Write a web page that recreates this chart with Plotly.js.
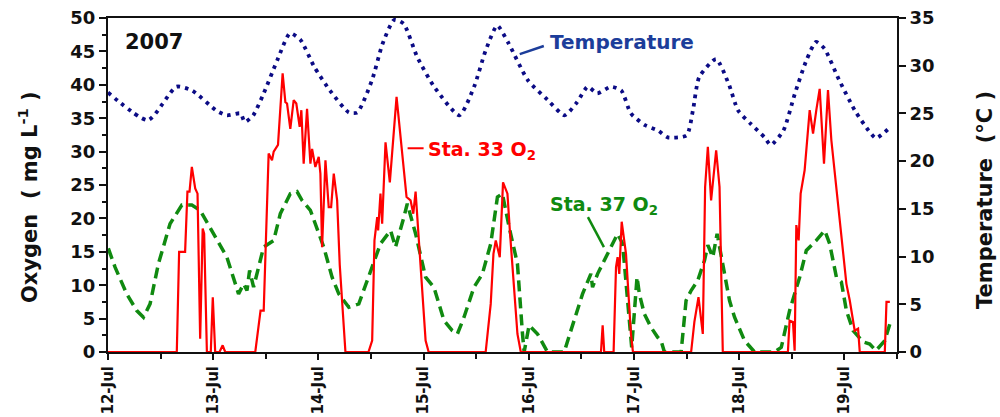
<!DOCTYPE html>
<html>
<head>
<meta charset="utf-8">
<script src="https://cdn.plot.ly/plotly-3.0.1.min.js"></script>
<style>html,body{margin:0;padding:0;background:#fff;}#chart{width:1000px;height:417px;}</style>
</head>
<body>
<div id="chart"></div>
<script>
// Day offsets from 12-Jul-2007 (0 = 12-Jul 00:00)
const tickDays = [0, 1, 2, 3, 4, 5, 6, 7];
const tickLabels = ['12-Jul', '13-Jul', '14-Jul', '15-Jul', '16-Jul', '17-Jul', '18-Jul', '19-Jul'];

// Sta. 33 O2 (mg L-1)
const sta33Day = [0, 0.654, 0.676, 0.733, 0.755, 0.775, 0.797, 0.829, 0.851, 0.876, 0.90, 0.914, 0.94, 0.977, 0.996, 1.019, 1.06, 1.09, 1.114,
  1.40, 1.45, 1.48, 1.527, 1.559, 1.575, 1.616, 1.660, 1.686, 1.702, 1.733, 1.765, 1.790, 1.822, 1.838, 1.860, 1.892, 1.924, 1.940, 1.971, 2.003, 2.019, 2.035, 2.067, 2.098, 2.121, 2.146, 2.178, 2.203, 2.257,
  2.476, 2.511, 2.533, 2.559, 2.568, 2.590, 2.606, 2.638, 2.679, 2.743, 2.838, 2.876, 2.902, 2.924, 2.971, 3.019, 3.048,
  3.590, 3.638, 3.664, 3.686, 3.724, 3.755, 3.797, 3.822, 3.892, 3.924,
  4.686, 4.702, 4.717, 4.806, 4.829, 4.844, 4.860, 4.883, 4.924, 4.971, 4.990,
  5.543, 5.574, 5.613, 5.654, 5.676, 5.702, 5.733, 5.781, 5.813, 5.844,
  6.463, 6.479, 6.511, 6.527, 6.543, 6.565, 6.584, 6.622, 6.670, 6.702, 6.733, 6.765, 6.806, 6.844, 6.876, 6.924, 6.987, 7.019, 7.051, 7.098, 7.130, 7.146,
  7.384, 7.400, 7.432];
const sta33O2 = [0, 0, 15, 15, 24, 24, 27.7, 24.5, 23.7, 2, 18.5, 17.7, 0, 0, 8.2, 0, 0, 1.0, 0,
  0, 6.2, 6.2, 29.7, 28.7, 30, 31, 41.7, 37.4, 37.2, 33.4, 37.7, 37.2, 33.7, 36.2, 28.2, 36.4, 28.2, 30.4, 27.7, 29.2, 26.7, 15.7, 28.7, 21.7, 21.7, 26.7, 22.7, 13, 0,
  0, 1.7, 16.7, 20.2, 18.2, 23.7, 19.2, 31.4, 25.4, 38.2, 23.2, 22.7, 20.7, 24, 12.7, 1.7, 0,
  0, 7.2, 14.7, 16.7, 14.2, 25.4, 23.7, 17.7, 2.7, 0,
  0, 4, 0, 0, 12.7, 14.2, 11.7, 19.5, 14.7, 2.7, 0,
  0, 4.5, 8.2, 2.7, 24.7, 30.7, 22.7, 30.2, 24.7, 0,
  0, 4.7, 4.5, 0.2, 19, 16.7, 23.7, 27.2, 36.2, 32.7, 36.2, 39.4, 28.2, 39.2, 31.7, 24.7, 15.2, 10.2, 7.7, 3.2, 3.5, 0,
  0, 7.5, 7.5];

// Sta. 37 O2 (mg L-1)
const sta37Day = [0.003, 0.067, 0.178, 0.273, 0.337, 0.40, 0.479, 0.59, 0.702, 0.797, 0.876, 1.003, 1.13, 1.241, 1.289, 1.321, 1.346, 1.384, 1.479, 1.575, 1.638, 1.733, 1.797, 1.844, 1.924, 2.051, 2.13, 2.194,
  2.289, 2.384, 2.495, 2.590, 2.686, 2.733, 2.813, 2.845, 2.924, 3.019, 3.098, 3.194, 3.273, 3.321, 3.384, 3.479, 3.559, 3.638, 3.702, 3.749, 3.813, 3.892, 3.94, 3.956, 4.003, 4.083, 4.178,
  4.337, 4.40, 4.511, 4.59, 4.606, 4.654, 4.717, 4.781, 4.844, 4.892, 4.94, 4.978, 5.029, 5.051, 5.098, 5.162, 5.225, 5.257, 5.289,
  5.448, 5.495, 5.543, 5.606, 5.67, 5.702, 5.749, 5.79, 5.844, 5.908, 5.956, 6.051, 6.146,
  6.337, 6.40, 6.479, 6.575, 6.638, 6.733, 6.813, 6.86, 6.924, 6.971, 7.019, 7.083, 7.178, 7.241, 7.30, 7.384, 7.432];
const sta37O2 = [15.5, 12.7, 8.7, 6.2, 5.2, 7.2, 13.2, 19.2, 22, 22, 21.2, 17.7, 14.2, 8.7, 10.2, 9.2, 12.2, 9.7, 15.7, 16.7, 20.7, 23.7, 24, 22.7, 21.2, 15.7, 11.2, 8.7,
  6.7, 7.2, 12.2, 16.2, 18.2, 15.7, 20.2, 22.2, 17.7, 11.2, 9.7, 4.7, 3.2, 2.7, 5.2, 9.7, 11.7, 16.2, 23.2, 23.7, 18.7, 13.2, 2.7, 0, 4, 2.7, 0,
  0, 3.2, 8.7, 11.7, 9.7, 11.7, 13.7, 15.7, 17.7, 16.2, 7.7, 0.7, 11.2, 8.7, 5.7, 3.7, 2.2, 1.7, 0,
  0, 7.7, 9.2, 10.7, 13.7, 16, 14.2, 17.7, 13.2, 7.7, 5.2, 1.7, 0,
  0, 0.7, 6.2, 11.2, 15.2, 16.7, 18.2, 16.2, 11.2, 10.5, 6.2, 3.2, 1.5, 1.2, 0.2, 1.7, 4.2];

// Temperature (deg C)
const tempDay = [0.0, 0.38, 0.65, 0.80, 1.03, 1.13, 1.26, 1.30, 1.38, 1.48, 1.61, 1.73, 1.83, 1.96, 2.11, 2.29, 2.37, 2.51, 2.61, 2.72, 2.81, 2.94, 3.10, 3.34, 3.48, 3.59, 3.70, 3.81, 3.99, 4.18, 4.34, 4.46, 4.56, 4.65, 4.78, 4.88, 4.97, 5.10, 5.23, 5.32, 5.50, 5.56, 5.62, 5.78, 5.90, 5.99, 6.11, 6.24, 6.30, 6.42, 6.53, 6.64, 6.73, 6.81, 6.95, 7.10, 7.23, 7.30, 7.42];
const tempC = [27.2, 24.3, 27.8, 27.4, 25.3, 24.8, 25.0, 24.1, 24.8, 27.1, 30.6, 33.4, 32.7, 29.9, 27.4, 25.1, 25.1, 28.5, 32.3, 34.8, 34.4, 30.9, 27.8, 24.8, 27.8, 31.6, 34.2, 32.3, 28.5, 26.4, 24.8, 26.2, 27.8, 27.1, 27.8, 27.4, 25.0, 23.8, 23.2, 22.5, 22.7, 25.3, 28.8, 30.7, 28.1, 25.3, 23.9, 22.5, 21.7, 23.2, 27.1, 30.6, 32.5, 31.8, 28.5, 25.3, 23.2, 22.4, 23.4];

const FONT = 'DejaVu Sans, Arial, sans-serif';
const RED = '#ff0000', GREEN = '#108a10', NAVY = '#0b0b85', BLUE_TXT = '#1c3d9a', INK = '#111';

const traces = [
  {x: tempDay, y: tempC, yaxis: 'y2', mode: 'lines', line: {color: NAVY, width: 3.8, dash: '3.5px,5px', shape: 'spline', smoothing: 0.6}, name: 'Temperature'},
  {x: sta37Day, y: sta37O2, mode: 'lines', line: {color: GREEN, width: 3.5, dash: '11px,6px'}, name: 'Sta. 37 O2'},
  {x: sta33Day, y: sta33O2, mode: 'lines', line: {color: RED, width: 2.2}, name: 'Sta. 33 O2'}
];

const axisLine = {showline: true, linecolor: INK, linewidth: 2};
const layout = {
  width: 1000, height: 417,
  margin: {l: 108, r: 103, t: 18, b: 65},
  paper_bgcolor: '#fff', plot_bgcolor: '#fff',
  showlegend: false,
  font: {family: FONT, color: INK},
  xaxis: Object.assign({}, axisLine, {
    range: [0, 7.5], mirror: true, zeroline: false, showgrid: false,
    tickmode: 'array', tickvals: tickDays, ticktext: tickLabels, tickangle: -90,
    ticks: 'outside', ticklen: 6, tickwidth: 2, tickcolor: INK,
    tickfont: {family: FONT, size: 15, weight: 'bold', color: INK},
    minor: {tickmode: 'linear', tick0: 0, dtick: 0.5, ticks: 'outside', ticklen: 5, tickwidth: 2, tickcolor: INK, showgrid: false}
  }),
  yaxis: Object.assign({}, axisLine, {
    range: [0, 50], zeroline: false, showgrid: false, tickmode: 'linear', tick0: 0, dtick: 5,
    ticks: 'outside', ticklen: 7, tickwidth: 2, tickcolor: INK,
    tickfont: {family: FONT, size: 18, weight: 'bold', color: INK},
    minor: {tickmode: 'linear', tick0: 0, dtick: 2.5, ticks: 'outside', ticklen: 4, tickwidth: 2, tickcolor: INK, showgrid: false}
  }),
  yaxis2: Object.assign({}, axisLine, {
    overlaying: 'y', side: 'right', range: [0, 35], zeroline: false, showgrid: false,
    tickmode: 'linear', tick0: 0, dtick: 5,
    ticks: 'outside', ticklen: 7, tickwidth: 2, tickcolor: INK,
    tickfont: {family: FONT, size: 18, weight: 'bold', color: INK}
  }),
  annotations: [
    {xref: 'paper', yref: 'paper', x: -0.1014, y: 0.464, text: 'Oxygen  ( mg L<sup>-1</sup> )', textangle: -90, showarrow: false,
     xanchor: 'center', yanchor: 'middle', font: {family: FONT, size: 21, weight: 'bold', color: INK}},
    {xref: 'paper', yref: 'paper', x: 1.1115, y: 0.455, text: 'Temperature  (°C )', textangle: -90, showarrow: false,
     xanchor: 'center', yanchor: 'middle', font: {family: FONT, size: 21, weight: 'bold', color: INK}},
    {xref: 'x', yref: 'y', x: 0.438, y: 46.4, text: '2007', showarrow: false, xanchor: 'center', yanchor: 'middle',
     font: {family: FONT, size: 21, weight: 'bold', color: INK}},
    {xref: 'x', yref: 'y', x: 4.18, y: 46.4, text: 'Temperature', showarrow: false, xanchor: 'left', yanchor: 'middle',
     font: {family: FONT, size: 20, weight: 'bold', color: BLUE_TXT}},
    {xref: 'x', yref: 'y', x: 3.02, y: 30.2, text: 'Sta. 33 O<sub>2</sub>', showarrow: false, xanchor: 'left', yanchor: 'middle',
     font: {family: FONT, size: 19, weight: 'bold', color: RED}},
    {xref: 'x', yref: 'y', x: 4.18, y: 22.0, text: 'Sta. 37 O<sub>2</sub>', showarrow: false, xanchor: 'left', yanchor: 'middle',
     font: {family: FONT, size: 19, weight: 'bold', color: GREEN}}
  ],
  shapes: [
    {type: 'line', xref: 'x', yref: 'y', x0: 3.914, y0: 44.6, x1: 4.143, y1: 45.8, line: {color: BLUE_TXT, width: 2.5}},
    {type: 'line', xref: 'x', yref: 'y', x0: 2.848, y0: 30.5, x1: 3.0, y1: 30.5, line: {color: RED, width: 2}},
    {type: 'line', xref: 'x', yref: 'y', x0: 4.562, y0: 20.2, x1: 4.714, y1: 15.7, line: {color: GREEN, width: 2.5}}
  ]
};

Plotly.newPlot('chart', traces, layout, {staticPlot: true, displayModeBar: false});
</script>
</body>
</html>
